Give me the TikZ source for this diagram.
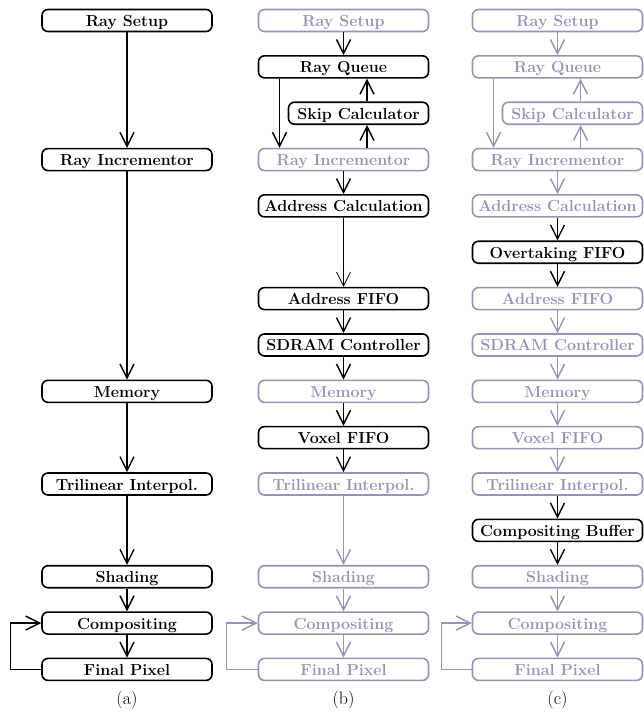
\documentclass[tikz,border=0pt]{standalone}
\usetikzlibrary{arrows.meta}
\definecolor{fade}{RGB}{148,148,182}
\begin{document}
\begin{tikzpicture}[x=1pt,y=-1pt,
 blk/.style={draw, rounded corners=6pt, line width=1.6pt, minimum width=170pt, minimum height=22pt, inner sep=0pt, text height=14pt, text depth=2pt, font=\fontsize{16}{18}\selectfont\bfseries},
 gry/.style={blk, draw=fade, text=fade},
 skipbox/.style={minimum width=140pt},
 arr/.style={line width=1.4pt, -{Straight Barb[length=14pt,width=14pt,line width=1.4pt]}},
 garr/.style={arr, draw=fade},
 lab/.style={font=\fontsize{18}{20}\selectfont}]
\useasboundingbox (0,0) rectangle (644,713);

% ---------- column (a) ----------
\node[blk] (a0) at (127,20.5) {Ray Setup};
\node[blk] (a3) at (127,159.55) {Ray Incrementor};
\node[blk] (a8) at (127,391.3) {Memory};
\node[blk] (a10) at (127,484) {Trilinear Interpol.};
\node[blk] (a12) at (127,576.7) {Shading};
\node[blk] (a13) at (127,623.05) {Compositing};
\node[blk] (a14) at (127,669.4) {Final Pixel};
\draw[arr] (a0) -- (a3);
\draw[arr] (a3) -- (a8);
\draw[arr] (a8) -- (a10);
\draw[arr] (a10) -- (a12);
\draw[arr] (a12) -- (a13);
\draw[arr] (a13) -- (a14);
\draw[arr] (a14.west) -- ++(-31,0) |- (a13.west);
\node[lab] (la) at (127,700) {(a)};

% ---------- column (b) ----------
\node[gry] (b0) at (343.5,20.5) {Ray Setup};
\node[blk] (b1) at (343.5,66.85) {Ray Queue};
\node[blk,skipbox] (b2) at (358.5,113.2) {Skip Calculator};
\node[gry] (b3) at (343.5,159.55) {Ray Incrementor};
\node[blk] (b4) at (343.5,205.9) {Address Calculation};
\node[blk] (b6) at (343.5,298.6) {Address FIFO};
\node[blk] (b7) at (343.5,344.95) {SDRAM Controller};
\node[gry] (b8) at (343.5,391.3) {Memory};
\node[blk] (b9) at (343.5,437.65) {Voxel FIFO};
\node[gry] (b10) at (343.5,484) {Trilinear Interpol.};
\node[gry] (b12) at (343.5,576.7) {Shading};
\node[gry] (b13) at (343.5,623.05) {Compositing};
\node[gry] (b14) at (343.5,669.4) {Final Pixel};
\draw[arr] (b0) -- (b1);
\draw[arr] ([xshift=-64pt]b1.south) -- ([xshift=-64pt]b3.north);
\draw[arr] ([xshift=23.5pt]b3.north) -- ([xshift=8.5pt]b2.south);
\draw[arr] ([xshift=8.5pt]b2.north) -- ([xshift=23.5pt]b1.south);
\draw[arr] (b3) -- (b4);
\draw[line width=1.4pt, -{Straight Barb[length=14pt,width=14pt,line width=0.7pt]}] (b4) -- (b6);
\draw[arr] (b6) -- (b7);
\draw[arr] (b7) -- (b8);
\draw[arr] (b8) -- (b9);
\draw[arr] (b9) -- (b10);
\draw[garr] (b10) -- (b12);
\draw[garr] (b12) -- (b13);
\draw[garr] (b13) -- (b14);
\draw[garr] (b14.west) -- ++(-31,0) |- (b13.west);
\node[lab] (lb) at (343.5,700) {(b)};

% ---------- column (c) ----------
\node[gry] (c0) at (557.5,20.5) {Ray Setup};
\node[gry] (c1) at (557.5,66.85) {Ray Queue};
\node[gry,skipbox] (c2) at (572.5,113.2) {Skip Calculator};
\node[gry] (c3) at (557.5,159.55) {Ray Incrementor};
\node[gry] (c4) at (557.5,205.9) {Address Calculation};
\node[blk] (c5) at (557.5,252.25) {Overtaking FIFO};
\node[gry] (c6) at (557.5,298.6) {Address FIFO};
\node[gry] (c7) at (557.5,344.95) {SDRAM Controller};
\node[gry] (c8) at (557.5,391.3) {Memory};
\node[gry] (c9) at (557.5,437.65) {Voxel FIFO};
\node[gry] (c10) at (557.5,484) {Trilinear Interpol.};
\node[blk] (c11) at (557.5,530.35) {Compositing Buffer};
\node[gry] (c12) at (557.5,576.7) {Shading};
\node[gry] (c13) at (557.5,623.05) {Compositing};
\node[gry] (c14) at (557.5,669.4) {Final Pixel};
\draw[garr] (c0) -- (c1);
\draw[garr] ([xshift=-64pt]c1.south) -- ([xshift=-64pt]c3.north);
\draw[garr] ([xshift=23pt]c3.north) -- ([xshift=8pt]c2.south);
\draw[garr] ([xshift=8pt]c2.north) -- ([xshift=23pt]c1.south);
\draw[garr] (c3) -- (c4);
\draw[arr] (c4) -- (c5);
\draw[arr] (c5) -- (c6);
\draw[garr] (c6) -- (c7);
\draw[garr] (c7) -- (c8);
\draw[garr] (c8) -- (c9);
\draw[garr] (c9) -- (c10);
\draw[arr] (c10) -- (c11);
\draw[arr] (c11) -- (c12);
\draw[garr] (c12) -- (c13);
\draw[garr] (c13) -- (c14);
\draw[garr] (c14.west) -- ++(-30,0) |- (c13.west);
\node[lab] (lc) at (557.5,700) {(c)};
\end{tikzpicture}
\end{document}
